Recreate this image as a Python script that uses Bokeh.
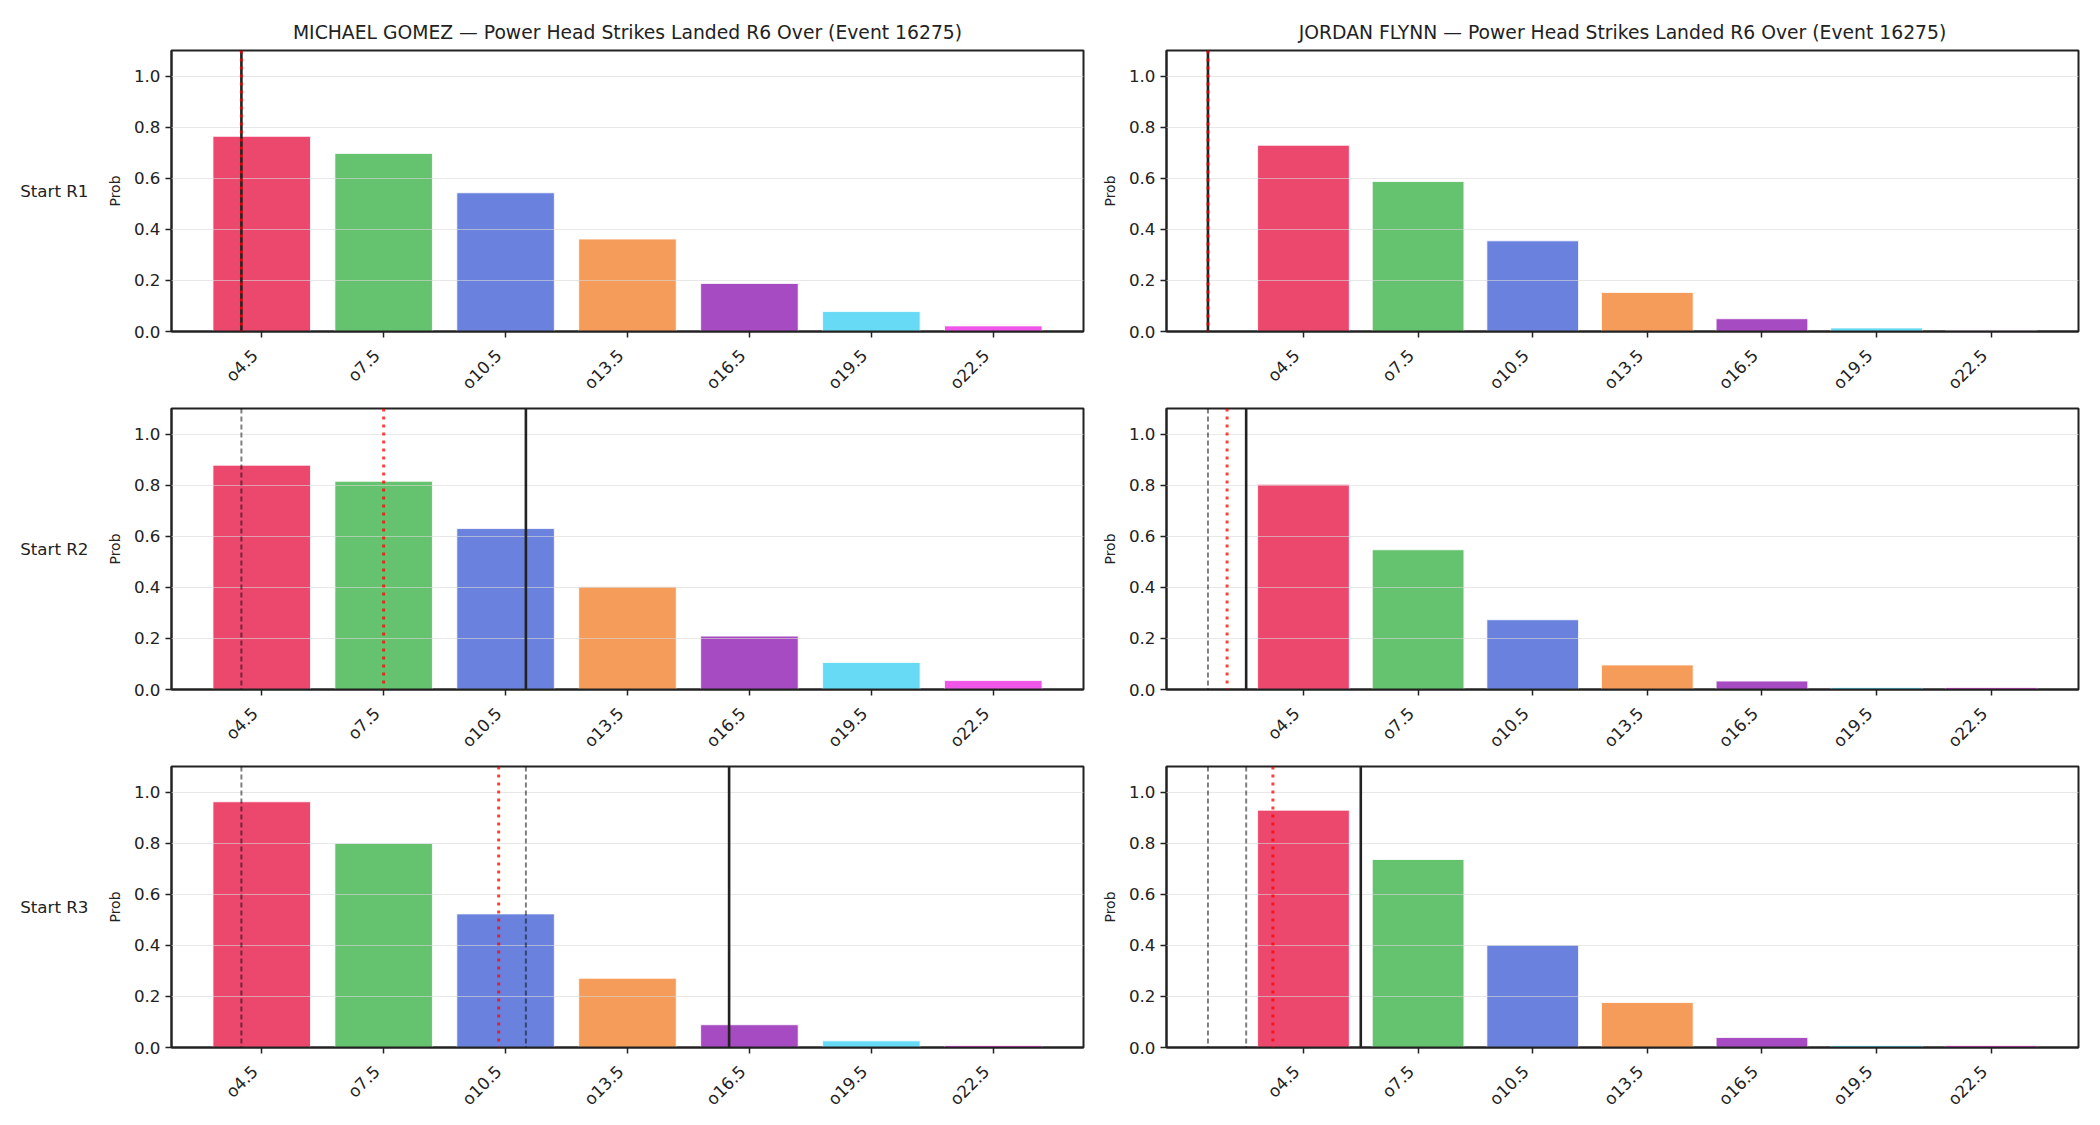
import math

from bokeh.embed import file_html
from bokeh.layouts import column, row
from bokeh.models import (ColumnDataSource, FixedTicker, LinearAxis,
                          NumeralTickFormatter, Range1d, Span)
from bokeh.plotting import figure
from bokeh.resources import INLINE

# ---- data -----------------------------------------------------------------
fighters = ["MICHAEL GOMEZ", "JORDAN FLYNN"]
title_suffix = " \u2014 Power Head Strikes Landed R6 Over (Event 16275)"
row_labels = ["Start R1", "Start R2", "Start R3"]

lines = [4.5, 7.5, 10.5, 13.5, 16.5, 19.5, 22.5]
line_labels = ["o4.5", "o7.5", "o10.5", "o13.5", "o16.5", "o19.5", "o22.5"]
bar_colors = ["#ec486e", "#65c26e", "#6a82de", "#f69c5b", "#a64bc1",
              "#67dbf5", "#f056e8"]

# P(over) per line, one list per starting round
gomez_probs = [
    [0.764, 0.697, 0.543, 0.362, 0.188, 0.078, 0.022],
    [0.878, 0.815, 0.630, 0.402, 0.209, 0.106, 0.035],
    [0.962, 0.799, 0.523, 0.271, 0.089, 0.026, 0.008],
]
flynn_probs = [
    [0.729, 0.587, 0.355, 0.153, 0.050, 0.014, 0.003],
    [0.803, 0.547, 0.273, 0.096, 0.033, 0.008, 0.008],
    [0.929, 0.736, 0.401, 0.176, 0.039, 0.008, 0.008],
]

# strikes landed so far (solid), earlier round starts (dashed), pace (dotted)
gomez_current = [4.0, 11.0, 16.0]
gomez_prior = [[], [4.0], [4.0, 11.0]]
gomez_pace = [4.0, 7.5, 10.33]
flynn_current = [2.0, 3.0, 6.0]
flynn_prior = [[], [2.0], [2.0, 3.0]]
flynn_pace = [2.0, 2.5, 3.7]

all_probs = [gomez_probs, flynn_probs]
all_current = [gomez_current, flynn_current]
all_prior = [gomez_prior, flynn_prior]
all_pace = [gomez_pace, flynn_pace]

BAR_W = 2.4
FONT = "DejaVu Sans"
INK = "#222222"
TICK_PX = "16.7px"
FRAME_W = 912
LABEL_SHIFT_PX = 7   # slanted line names sit left of their tick


def x_limits(col):
    marks = list(all_current[col]) + list(all_pace[col])
    for pr in all_prior[col]:
        marks += pr
    lo = min(min(lines) - BAR_W / 2, min(marks))
    hi = max(max(lines) + BAR_W / 2, max(marks))
    pad = 0.05 * (hi - lo)
    return lo - pad, hi + pad


def make_panel(col, r):
    x0, x1 = x_limits(col)
    top = 50 if r == 0 else 2
    if col == 0:
        left, right = 171, 4
    else:
        left, right = 79, 22
    p = figure(frame_width=FRAME_W, frame_height=281,
               x_range=Range1d(x0, x1), y_range=Range1d(0, 1.1),
               output_backend="svg", toolbar_location=None,
               min_border_left=left, min_border_right=right,
               min_border_top=top, min_border_bottom=75,
               background_fill_color="white", border_fill_color="white")

    if r == 0:
        p.title.text = fighters[col] + title_suffix
        p.title.align = "center"
        p.title.text_font = FONT
        p.title.text_font_size = "18.75px"
        p.title.text_font_style = "normal"
        p.title.text_color = INK
        p.title.standoff = 15

    src = ColumnDataSource(dict(x=lines, top=all_probs[col][r],
                                color=bar_colors))
    p.vbar(x="x", top="top", width=BAR_W, bottom=0, source=src,
           fill_color="color", line_color="white", line_width=0.8)

    p.outline_line_color = INK
    p.outline_line_width = 2
    p.outline_line_alpha = 1

    p.xgrid.visible = False
    p.ygrid.ticker = FixedTicker(ticks=[0.0, 0.2, 0.4, 0.6, 0.8, 1.0])
    p.ygrid.grid_line_color = "#d8d8d8"
    p.ygrid.grid_line_alpha = 0.6
    p.ygrid.grid_line_width = 1
    p.ygrid.level = "annotation"

    xa = p.xaxis[0]
    xa.ticker = FixedTicker(ticks=lines)
    xa.major_label_overrides = {float(v): "" for v in lines}
    xa.major_label_standoff = 0
    ya = p.yaxis[0]
    ya.ticker = FixedTicker(ticks=[0.0, 0.2, 0.4, 0.6, 0.8, 1.0])
    ya.formatter = NumeralTickFormatter(format="0.0")
    ya.axis_label = "Prob"
    ya.axis_label_text_font = FONT
    ya.axis_label_text_font_size = "14px"
    ya.axis_label_text_font_style = "normal"
    ya.axis_label_text_color = INK
    ya.axis_label_standoff = 8
    ya.major_label_standoff = 5
    for ax in (xa, ya):
        ax.axis_line_color = INK
        ax.axis_line_width = 2
        ax.major_tick_line_color = INK
        ax.major_tick_line_width = 1.5
        ax.major_tick_out = 6
        ax.major_tick_in = 0
        ax.minor_tick_line_color = None
        ax.major_label_text_font = FONT
        ax.major_label_text_font_size = TICK_PX
        ax.major_label_text_color = INK

    # slanted line names: a companion axis on a slightly offset range
    du = LABEL_SHIFT_PX * (x1 - x0) / FRAME_W
    p.extra_x_ranges = {"names": Range1d(x0 + du, x1 + du)}
    names = LinearAxis(x_range_name="names", ticker=FixedTicker(ticks=lines),
                       major_label_overrides={float(v): t for v, t in zip(lines, line_labels)},
                       major_label_orientation=math.pi / 4,
                       axis_line_color=None, major_tick_line_color=None,
                       minor_tick_line_color=None, major_tick_out=0,
                       major_tick_in=0, major_label_standoff=15,
                       major_label_text_font=FONT,
                       major_label_text_font_size=TICK_PX,
                       major_label_text_color=INK)
    p.add_layout(names, "below")

    if col == 0:
        lab = LinearAxis(ticker=FixedTicker(ticks=[]), axis_label=row_labels[r],
                         axis_line_color=None, major_tick_line_color=None,
                         minor_tick_line_color=None,
                         axis_label_orientation="horizontal",
                         axis_label_text_font=FONT,
                         axis_label_text_font_size=TICK_PX,
                         axis_label_text_font_style="normal",
                         axis_label_text_color=INK,
                         axis_label_standoff=15)
        p.add_layout(lab, "left")

    for loc in all_prior[col][r]:
        p.add_layout(Span(location=loc, dimension="height", line_color="black",
                          line_alpha=0.5, line_width=2, line_dash="5 3"))
    p.add_layout(Span(location=all_current[col][r], dimension="height",
                      line_color="#222222", line_width=2.6))
    p.add_layout(Span(location=all_pace[col][r], dimension="height",
                      line_color="red", line_alpha=0.75, line_width=3,
                      line_dash="3 5"))
    return p


rows = []
for r in range(3):
    rows.append(row(make_panel(0, r), make_panel(1, r)))
page = column(*rows)

open("out.html", "w").write(file_html(page, INLINE))
